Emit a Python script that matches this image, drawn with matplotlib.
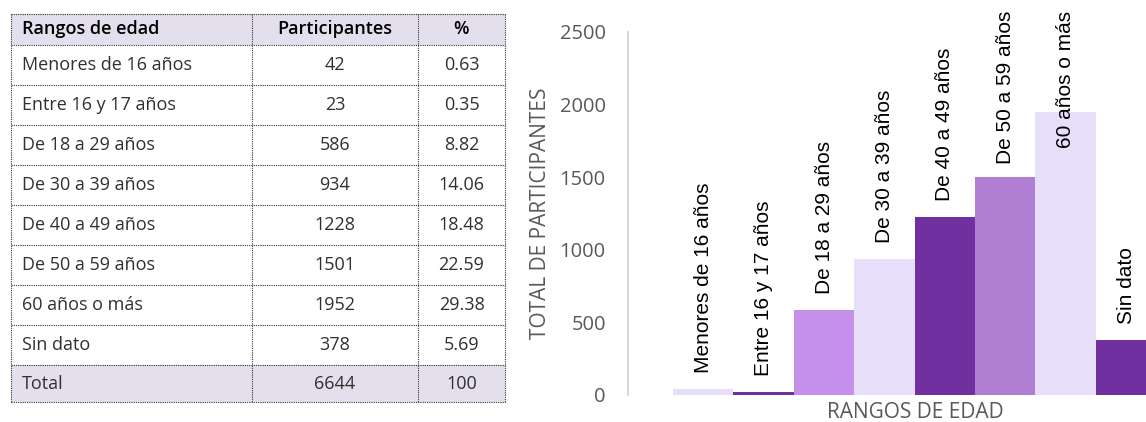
import matplotlib.pyplot as plt

# data
rangos = ['Menores de 16 años', 'Entre 16 y 17 años', 'De 18 a 29 años', 'De 30 a 39 años',
          'De 40 a 49 años', 'De 50 a 59 años', '60 años o más', 'Sin dato']
participantes = [42, 23, 586, 934, 1228, 1501, 1952, 378]
porcentajes = ['0.63', '0.35', '8.82', '14.06', '18.48', '22.59', '29.38', '5.69']
total_label = 'Total'
total_part = 6644
total_pct = '100'
headers = ['Rangos de edad', 'Participantes', '%']

bar_colors = ['#E7DFFA', '#7030A0', '#C490EC', '#E7DFFA', '#7030A0', '#B07FD4', '#E7DFFA', '#7030A0']

W, H = 1146, 422
fig = plt.figure(figsize=(W / 100, H / 100), dpi=100)

# ---- table (drawn in pixel coords)
tab = fig.add_axes([0, 0, 1, 1])
tab.set_xlim(0, W)
tab.set_ylim(H, 0)
tab.axis('off')

col_x = [11, 252, 418, 505]
row_y = [14, 45]
for i in range(len(rangos)):
    row_y.append(45 + 40.05 * (i + 1))
row_y.append(402)

line_kw = dict(color='#333333', lw=0.8, ls=(0, (1, 1)))
fill = '#E4DFEC'
tab.fill_between([col_x[0], col_x[-1]], row_y[0], row_y[1], color=fill, lw=0)
tab.fill_between([col_x[0], col_x[-1]], row_y[-2], row_y[-1], color=fill, lw=0)
for y in row_y:
    tab.plot([col_x[0], col_x[-1]], [y, y], **line_kw)
for x in col_x:
    tab.plot([x, x], [row_y[0], row_y[-1]], **line_kw)

rows = [headers] + [[r, str(p), c] for r, p, c in zip(rangos, participantes, porcentajes)]
rows.append([total_label, str(total_part), total_pct])
for k, row in enumerate(rows):
    yc = (row_y[k] + row_y[k + 1]) / 2
    weight = 'semibold' if k == 0 else 'normal'
    col = '#000000' if k == 0 else '#303030'
    tab.text(col_x[0] + 11, yc, row[0], ha='left', va='center', fontsize=13,
             family='Open Sans', fontweight=weight, color=col)
    for j in (1, 2):
        tab.text((col_x[j] + col_x[j + 1]) / 2, yc, row[j], ha='center', va='center',
                 fontsize=13, family='Open Sans', fontweight=weight, color=col)

# ---- bar chart
x0, x1 = 628, 1146
y0, y1 = 395, 32
ax = fig.add_axes([x0 / W, 1 - y0 / H, (x1 - x0) / W, (y0 - y1) / H])
xs = list(range(len(participantes)))
ax.bar(xs, participantes, width=1.0, color=bar_colors, linewidth=0)
ax.set_xlim(-1.245, 7.33)
ax.set_ylim(0, 2500)
ax.set_yticks([0, 500, 1000, 1500, 2000, 2500])
ax.tick_params(axis='y', length=0, pad=16, labelsize=14.5, labelcolor='#595959')
ax.tick_params(axis='x', length=0, labelbottom=False)
for lab in ax.get_yticklabels():
    lab.set_family('Open Sans')
for s in ['top', 'right', 'bottom']:
    ax.spines[s].set_visible(False)
ax.spines['left'].set_color('#D9D9D9')
ax.spines['left'].set_linewidth(1.5)

ax.set_ylabel('TOTAL DE PARTICIPANTES', family='Open Sans', fontsize=15,
              color='#595959', labelpad=6)
fig.text(915 / W, 1 - 412 / H, 'RANGOS DE EDAD', family='Open Sans',
         fontsize=15, color='#595959', ha='center', va='center')

# data labels above bars, pushed down if they leave the figure
texts = []
for xi, v, name in zip(xs, participantes, rangos):
    t = ax.annotate(name, (xi, v), xytext=(0, 11.5), textcoords='offset points',
                    rotation=90, ha='center', va='bottom', fontsize=15,
                    family='Liberation Sans', color='black', annotation_clip=False)
    texts.append(t)

fig.canvas.draw()
r = fig.canvas.get_renderer()
top_limit = H - 11
for t in texts:
    bb = t.get_window_extent(r)
    if bb.y1 > top_limit:
        shift = (bb.y1 - top_limit) * 72 / fig.dpi
        ox, oy = t.xyann
        t.xyann = (ox, oy - shift)

fig.savefig('out.png', dpi=100)
